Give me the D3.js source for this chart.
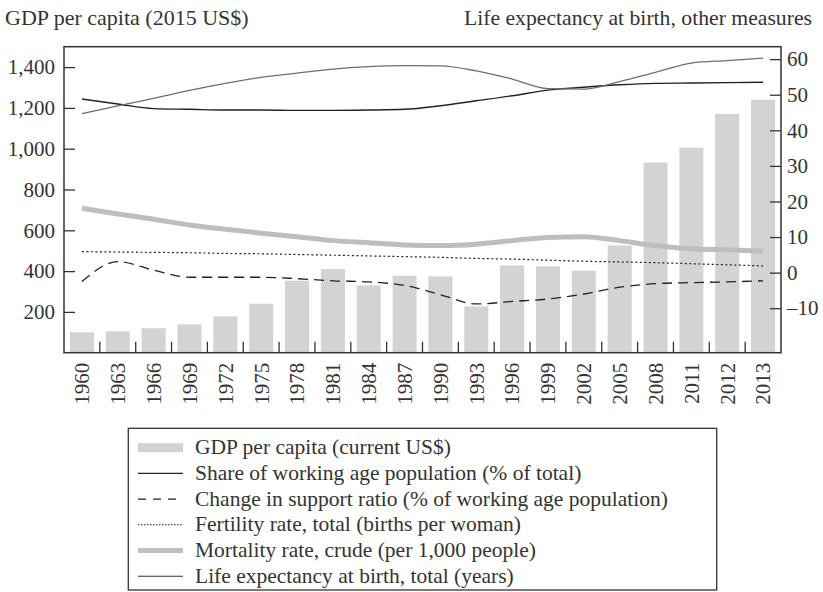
<!DOCTYPE html>
<html>
<head>
<meta charset="utf-8">
<script src="https://cdn.jsdelivr.net/npm/d3@7"></script>
<style>
  body { margin: 0; background: #fff; }
  svg text { font-family: "Liberation Serif", "DejaVu Serif", serif; fill: #333; }
</style>
</head>
<body>
<div id="chart"></div>
<script>
// data
var years = ["1960","1963","1966","1969","1972","1975","1978","1981","1984","1987",
             "1990","1993","1996","1999","2002","2005","2008","2011","2012","2013"];
var gdp = [100,105,120,139,178,240,353,410,330,377,374,227,428,423,402,526,932,1005,1170,1240];
var workingAge = [48.8,47.4,46.1,45.9,45.7,45.7,45.6,45.6,45.7,45.9,46.9,48.3,49.7,51.3,52.1,52.8,53.2,53.3,53.4,53.5];
var supportChange = [-2.5,3.1,0.7,-1.3,-1.3,-1.3,-1.7,-2.3,-2.6,-3.6,-6.2,-8.8,-8.1,-7.4,-6.0,-4.1,-3.1,-2.8,-2.6,-2.3];
var fertility = [5.9,5.8,5.7,5.6,5.4,5.3,5.1,4.9,4.7,4.5,4.3,4.0,3.8,3.5,3.2,3.0,2.8,2.5,2.2,1.9];
var mortality = [18.1,16.5,15.0,13.4,12.2,11.1,10.1,9.0,8.4,7.8,7.6,8.0,9.0,9.9,10.1,9.0,7.6,6.7,6.4,6.0];
var lifeExp = [44.7,46.9,49.0,51.2,53.2,54.9,56.1,57.2,57.9,58.2,58.1,56.7,54.4,51.7,51.6,53.7,56.3,58.9,59.6,60.3];
var leftTicks = [200,400,600,800,1000,1200,1400];
var rightTicks = [-10,0,10,20,30,40,50,60];

var W = 823, H = 592;
var pLeft = 64, pTop = 46.7, pRight = 781, pBottom = 352.7;

var svg = d3.select("#chart").append("svg")
    .attr("width", W).attr("height", H);

var x = d3.scaleBand().domain(years).range([pLeft, pRight])
    .paddingInner(0.33).paddingOuter(0.165);
var yL = d3.scaleLinear().domain([0, 1500]).range([pBottom, pTop]);
var yR = d3.scaleLinear().domain([-22.5, 63.5]).range([pBottom, pTop]);

// titles
svg.append("text").attr("x", 5).attr("y", 25)
    .style("font-size", "22px").text("GDP per capita (2015 US$)");
svg.append("text").attr("x", 812).attr("y", 25).attr("text-anchor", "end")
    .style("font-size", "21.7px").text("Life expectancy at birth, other measures");

// bars
svg.selectAll(".bar").data(gdp).enter().append("rect")
    .attr("class", "bar")
    .attr("x", (d, i) => x(years[i]))
    .attr("y", d => yL(d))
    .attr("width", x.bandwidth())
    .attr("height", d => yL(0) - yL(d))
    .style("fill", "#d1d3d4");

// lines
var series = [
  { vals: mortality, stroke: "#bcbec0", width: 5, dash: null },
  { vals: fertility, stroke: "#222", width: 1.2, dash: "2,2.5" },
  { vals: supportChange, stroke: "#222", width: 1.3, dash: "10,6" },
  { vals: workingAge, stroke: "#222", width: 1.4, dash: null },
  { vals: lifeExp, stroke: "#6d6e71", width: 1.3, dash: null }
];
var line = d3.line()
    .x((d, i) => x(years[i]) + x.bandwidth() / 2)
    .y(d => yR(d))
    .curve(d3.curveMonotoneX);

series.forEach(function(s) {
  svg.append("path")
      .datum(s.vals)
      .attr("d", line)
      .style("fill", "none")
      .style("stroke", s.stroke)
      .style("stroke-width", s.width)
      .style("stroke-dasharray", s.dash);
});

// axes
var axL = svg.append("g").attr("transform", "translate(" + pLeft + ",0)")
    .call(d3.axisLeft(yL).tickValues(leftTicks).tickSize(-11).tickPadding(9)
      .tickFormat(d3.format(",")));
var axR = svg.append("g").attr("transform", "translate(" + pRight + ",0)")
    .call(d3.axisRight(yR).tickValues(rightTicks).tickSize(-11).tickPadding(6)
      .tickFormat(d => d < 0 ? "\u2013" + Math.abs(d) : d));
var axB = svg.append("g").attr("transform", "translate(0," + pBottom + ")")
    .call(d3.axisBottom(x).tickSize(0).tickPadding(0));

[axL, axR, axB].forEach(function(g) {
  g.select(".domain").remove();
  g.selectAll(".tick line").style("stroke", "#333").style("stroke-width", 1.3);
  g.selectAll("text").style("font-size", "21px").style("fill", "#333")
      .style("font-family", "Liberation Serif, serif");
});

axB.selectAll(".tick text")
    .attr("transform", "translate(0,10) rotate(-90)")
    .attr("text-anchor", "end")
    .attr("x", 0).attr("y", 0).attr("dy", "0.35em");

// boundary ticks between bars
var gap = x.step() - x.bandwidth();
svg.selectAll(".btick").data(years.slice(1)).enter().append("line")
    .attr("x1", d => x(d) - gap / 2).attr("x2", d => x(d) - gap / 2)
    .attr("y1", pBottom).attr("y2", pBottom - 11)
    .style("stroke", "#333").style("stroke-width", 1.3);

// frame
svg.append("rect")
    .attr("x", pLeft).attr("y", pTop)
    .attr("width", pRight - pLeft).attr("height", pBottom - pTop)
    .style("fill", "none").style("stroke", "#333").style("stroke-width", 1.5);

// legend
var legendItems = [
  { label: "GDP per capita (current US$)", type: "bar" },
  { label: "Share of working age population (% of total)", s: series[3] },
  { label: "Change in support ratio (% of working age population)", s: { stroke: "#222", width: 1.3, dash: "8,7" } },
  { label: "Fertility rate, total (births per woman)", s: { stroke: "#222", width: 1.1, dash: "1.5,1.5" } },
  { label: "Mortality rate, crude (per 1,000 people)", s: series[0] },
  { label: "Life expectancy at birth, total (years)", s: { stroke: "#333", width: 1.1, dash: null } }
];
svg.append("rect")
    .attr("x", 128.3).attr("y", 428.3).attr("width", 588.4).attr("height", 161.7)
    .style("fill", "none").style("stroke", "#333").style("stroke-width", 1.3);

var lg = svg.selectAll(".lg").data(legendItems).enter().append("g")
    .attr("transform", (d, i) => "translate(138," + (447.7 + i * 25.7) + ")");
lg.each(function(d) {
  var g = d3.select(this);
  if (d.type === "bar") {
    g.append("rect").attr("x", 0).attr("y", -4.5).attr("width", 45).attr("height", 9)
        .style("fill", "#d1d3d4");
  } else {
    g.append("line").attr("x1", 0).attr("x2", 45).attr("y1", 0).attr("y2", 0)
        .style("stroke", d.s.stroke).style("stroke-width", d.s.width)
        .style("stroke-dasharray", d.s.dash);
  }
  g.append("text").attr("x", 57).attr("y", 6.5)
      .style("font-size", "21.5px").text(d.label);
});
</script>
</body>
</html>
